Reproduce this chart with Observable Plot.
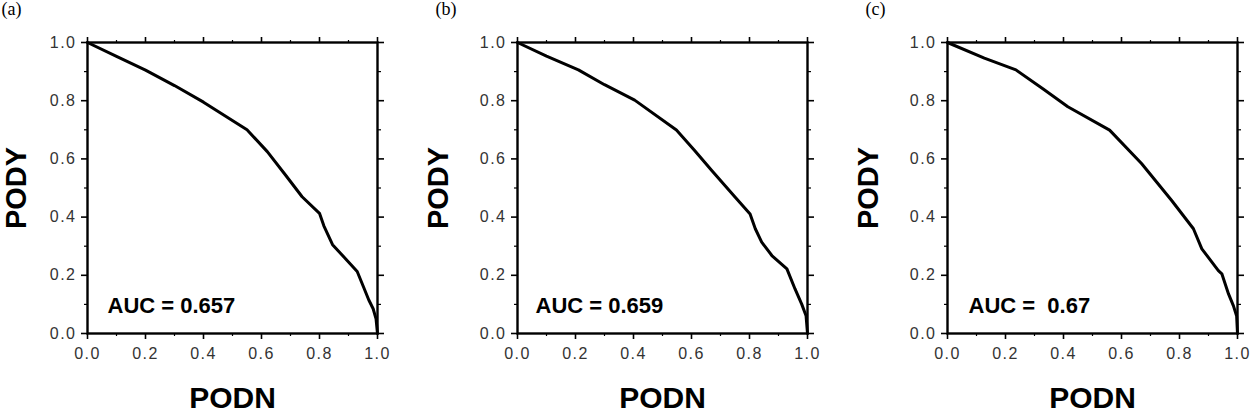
<!DOCTYPE html>
<html>
<head>
<meta charset="utf-8">
<script src="https://cdn.jsdelivr.net/npm/d3@7"></script>
<script src="https://cdn.jsdelivr.net/npm/@observablehq/plot@0.6"></script>
<style>
  html, body { margin: 0; padding: 0; background: #fff; }
  #wrap { position: relative; width: 1250px; height: 416px; overflow: hidden; background: #fff; }
  .panel { position: absolute; top: 0; overflow: visible; }
  svg text { white-space: pre; }
  .ticklab text { font-size: 16px; letter-spacing: 1.5px; fill: #333; }
</style>
</head>
<body>
<div id="wrap"></div>
<script>
// ---- data ----
const panelLabels = ["(a)", "(b)", "(c)"];
const aucLabels = ["AUC = 0.657", "AUC = 0.659", "AUC =  0.67"];

const podnA = [0, 0.1, 0.2, 0.3, 0.4, 0.55, 0.62, 0.68, 0.74, 0.8, 0.815, 0.845, 0.885, 0.93, 0.955, 0.97, 0.985, 0.995, 1.0];
const podyA = [1, 0.952, 0.905, 0.852, 0.795, 0.70, 0.625, 0.548, 0.47, 0.413, 0.37, 0.305, 0.262, 0.213, 0.152, 0.115, 0.085, 0.05, 0.0];

const podnB = [0, 0.1, 0.21, 0.3, 0.404, 0.548, 0.61, 0.669, 0.75, 0.802, 0.82, 0.842, 0.877, 0.929, 0.957, 0.98, 0.995, 1.0];
const podyB = [1, 0.953, 0.906, 0.855, 0.802, 0.699, 0.63, 0.561, 0.469, 0.411, 0.36, 0.314, 0.268, 0.222, 0.153, 0.101, 0.061, 0.0];

const podnC = [0, 0.127, 0.236, 0.33, 0.415, 0.559, 0.669, 0.773, 0.848, 0.877, 0.934, 0.946, 0.969, 0.986, 0.997, 1.0];
const podyC = [1, 0.946, 0.906, 0.84, 0.779, 0.699, 0.584, 0.457, 0.36, 0.291, 0.216, 0.205, 0.136, 0.095, 0.06, 0.0];

const majorTicks = [0, 0.2, 0.4, 0.6, 0.8, 1.0];
const minorTicks = [0.1, 0.3, 0.5, 0.7, 0.9];
const xTitle = "PODN";
const yTitle = "PODY";

const series = [
  {x: podnA, y: podyA},
  {x: podnB, y: podyB},
  {x: podnC, y: podyC}
];
const yTitleDx = [-71, -79, -79];
const aucDx = [20, 18, 21];

// ---- drawing ----
const wrap = document.getElementById("wrap");
const fmt = d3.format(".1f");
const EXTRA = 20; // extra room on the left of each svg

series.forEach((s, i) => {
  const data = s.x.map((x, k) => ({podn: x, pody: s.y[k]}));
  const chart = Plot.plot({
    width: 430 + EXTRA,
    height: 416,
    marginLeft: 87 + EXTRA,
    marginRight: 53,
    marginTop: 42,
    marginBottom: 83,
    style: {fontFamily: "Liberation Sans, Arial, sans-serif", fontSize: "16px", color: "#333", background: "transparent", overflow: "visible"},
    x: {domain: [0, 1]},
    y: {domain: [0, 1]},
    marks: [
      // major ticks with labels
      Plot.axisX(majorTicks, {anchor: "bottom", tickSize: 6, tickPadding: 8, tickFormat: fmt, stroke: "#000", strokeWidth: 1.6, fontSize: 16, className: "ticklab", label: null}),
      Plot.axisY(majorTicks, {anchor: "left", tickSize: 6, tickPadding: 5, tickFormat: fmt, stroke: "#000", strokeWidth: 1.6, fontSize: 16, className: "ticklab", label: null}),
      Plot.axisX(majorTicks, {anchor: "top", tickSize: 6, tickFormat: () => "", stroke: "#000", strokeWidth: 1.6, label: null}),
      Plot.axisY(majorTicks, {anchor: "right", tickSize: 6, tickFormat: () => "", stroke: "#000", strokeWidth: 1.6, label: null}),
      // minor ticks
      Plot.axisX(minorTicks, {anchor: "bottom", tickSize: 3, tickFormat: () => "", stroke: "#000", strokeWidth: 1.2, label: null}),
      Plot.axisY(minorTicks, {anchor: "left", tickSize: 3, tickFormat: () => "", stroke: "#000", strokeWidth: 1.2, label: null}),
      Plot.axisX(minorTicks, {anchor: "top", tickSize: 3, tickFormat: () => "", stroke: "#000", strokeWidth: 1.2, label: null}),
      Plot.axisY(minorTicks, {anchor: "right", tickSize: 3, tickFormat: () => "", stroke: "#000", strokeWidth: 1.2, label: null}),
      Plot.frame({stroke: "#000", strokeWidth: 2.4}),
      Plot.line(data, {x: "podn", y: "pody", stroke: "#000", strokeWidth: 3, strokeLinejoin: "round"}),
      Plot.text([aucLabels[i]], {frameAnchor: "bottom-left", dx: aucDx[i], dy: -28, lineAnchor: "middle", textAnchor: "start", fontSize: 22, fontWeight: "bold", fill: "#000"}),
      Plot.text([xTitle], {frameAnchor: "bottom", dy: 65, lineAnchor: "middle", textAnchor: "middle", fontSize: 30, fontWeight: "bold", fill: "#000", letterSpacing: "2px"}),
      Plot.text([yTitle], {frameAnchor: "left", dx: yTitleDx[i], rotate: -90, lineAnchor: "middle", textAnchor: "middle", fontSize: 29, fontWeight: "bold", fill: "#000", letterSpacing: "2px"}),
      Plot.text([panelLabels[i]], {frameAnchor: "top-left", dx: -87 + (i === 0 ? 1 : 5), dy: -40, lineAnchor: "top", textAnchor: "start", fontSize: 18, fontFamily: "Liberation Serif, Times New Roman, serif", fill: "#000"})
    ]
  });
  chart.classList.add("panel");
  chart.style.left = (i * 430 - EXTRA) + "px";
  wrap.appendChild(chart);
});
</script>
</body>
</html>
